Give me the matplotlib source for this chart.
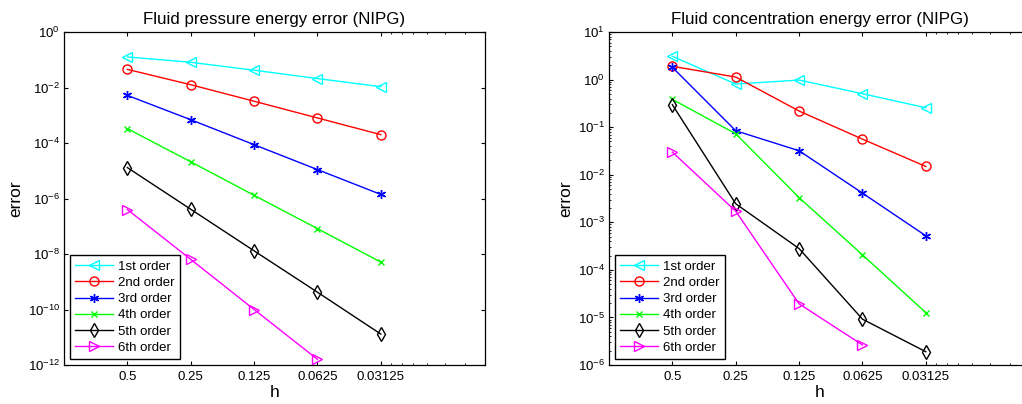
import matplotlib
matplotlib.use("Agg")
import matplotlib.pyplot as plt
import numpy as np

plt.rcParams['font.family'] = ['Liberation Sans', 'DejaVu Sans']
plt.rcParams['mathtext.fontset'] = 'custom'
plt.rcParams['mathtext.rm'] = 'Liberation Sans'
plt.rcParams['mathtext.it'] = 'Liberation Sans:italic'
plt.rcParams['mathtext.bf'] = 'Liberation Sans:bold'

# ---- data ----
h = [0.5, 0.25, 0.125, 0.0625, 0.03125]
h_labels = ['0.5', '0.25', '0.125', '0.0625', '0.03125']
series_labels = ['1st order', '2nd order', '3rd order', '4th order', '5th order', '6th order']

pressure_1 = [0.126, 0.081, 0.042, 0.021, 0.0107]
pressure_2 = [0.045, 0.0126, 0.0032, 8.0e-4, 2.0e-4]
pressure_3 = [5.2e-3, 6.9e-4, 8.7e-5, 1.1e-5, 1.4e-6]
pressure_4 = [3.3e-4, 2.1e-5, 1.3e-6, 8.2e-8, 5.1e-9]
pressure_5 = [1.3e-5, 4.1e-7, 1.3e-8, 4.2e-10, 1.3e-11]
pressure_6 = [4.0e-7, 6.4e-9, 1.0e-10, 1.6e-12]

conc_1 = [3.08, 0.805, 0.977, 0.505, 0.256]
conc_2 = [1.90, 1.13, 0.218, 0.056, 0.0149]
conc_3 = [1.81, 0.084, 0.0319, 0.0041, 5.2e-4]
conc_4 = [0.383, 0.0726, 3.3e-3, 2.07e-4, 1.26e-5]
conc_5 = [0.296, 2.45e-3, 2.8e-4, 9.2e-6, 1.9e-6]
conc_6 = [0.0299, 1.71e-3, 1.93e-5, 2.64e-6]

x_minor_ticks = [0.028, 0.0249, 0.0221, 0.0189, 0.0155, 0.0125]

colors = ['#00ffff', '#ff0000', '#0000ff', '#00ff00', '#000000', '#ff00ff']
markers = ['<', 'o', (6, 2, 0), 'x', 'd', '>']
msizes = [7, 6.5, 6.5, 5, 7, 7]

fig = plt.figure(figsize=(10.22, 4.04), dpi=100)
ax1 = fig.add_axes([64/1022, 39/404, 421/1022, 333/404])
ax2 = fig.add_axes([609/1022, 39/404, 421/1022, 333/404])


def draw(ax, data, title, ylim, yticks, yminor):
    for d, lab, c, m, ms in zip(data, series_labels, colors, markers, msizes):
        ax.plot(h[:len(d)], d, color=c, marker=m, markersize=ms,
                markerfacecolor='none' if m != (6, 2, 0) else c,
                markeredgewidth=1.0, linewidth=1.0, label=lab)
    ax.set_xscale('log')
    ax.set_yscale('log')
    ax.set_xlim(1, 0.01)
    ax.set_ylim(*ylim)
    ax.set_xticks(h)
    ax.set_xticklabels(h_labels)
    ax.set_xticks(x_minor_ticks, minor=True)
    ax.set_xticklabels([], minor=True)
    ax.set_yticks(yticks)
    if yminor:
        ax.yaxis.set_minor_locator(matplotlib.ticker.LogLocator(base=10, subs=np.arange(2, 10), numticks=20))
        ax.yaxis.set_minor_formatter(matplotlib.ticker.NullFormatter())
    else:
        ax.yaxis.set_minor_locator(matplotlib.ticker.NullLocator())
    ax.tick_params(which='both', direction='in', top=True, right=True, labelsize=9.5)
    ax.tick_params(which='major', length=3.2, width=0.8)
    ax.tick_params(which='minor', length=1.6, width=0.6)
    ax.tick_params(axis='y', pad=3)
    ax.tick_params(axis='x', pad=4)
    for s in ax.spines.values():
        s.set_linewidth(0.9)
    ax.set_title(title, fontsize=12.2, pad=6)
    ax.set_xlabel('h', fontsize=12.5, labelpad=2)
    ax.set_ylabel('error', fontsize=12.5, labelpad=3)
    leg = ax.legend(loc='lower left', fontsize=9.5, handlelength=2.9, handletextpad=0.35,
                    labelspacing=0.3, borderpad=0.4, borderaxespad=0.45, fancybox=False,
                    framealpha=1, edgecolor='black')
    leg.get_frame().set_linewidth(1.0)


draw(ax1, [pressure_1, pressure_2, pressure_3, pressure_4, pressure_5, pressure_6],
     'Fluid pressure energy error (NIPG)', (1e-12, 1), [10.0**k for k in range(-12, 1, 2)], False)
draw(ax2, [conc_1, conc_2, conc_3, conc_4, conc_5, conc_6],
     'Fluid concentration energy error (NIPG)', (1e-6, 10), [10.0**k for k in range(-6, 2)], True)

fig.savefig('out.png', dpi=100)
